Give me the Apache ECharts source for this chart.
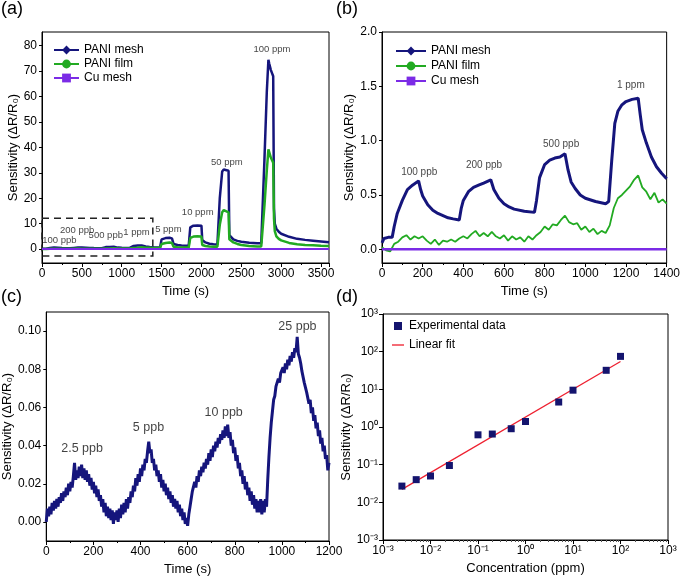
<!DOCTYPE html>
<html><head><meta charset="utf-8">
<script src="https://cdn.jsdelivr.net/npm/echarts@6/dist/echarts.min.js"></script>
<style>html,body{margin:0;padding:0;background:#fff}#c{width:683px;height:580px}</style>
</head><body><div id="c"></div>
<script>
// ---------- Panel (a) ----------
const aTime = [0,50,100,150,200,250,300,350,400,450,500,550,600,650,700,750,800,850,900,950,1000,1050,1100,1150,1200,1250,1300,1350,1400,1450,
  1480,1500,1550,1600,1630,1650,1700,1750,1800,1840,
  1860,1900,1950,2000,2010,2050,2100,2150,2200,
  2230,2260,2280,2300,2340,2350,
  2400,2450,2500,2550,2600,2650,2700,2750,
  2760,2790,2820,2840,2850,2870,2900,2910,
  2920,2940,2970,3000,
  3100,3200,3300,3400,3500,3600];
const aMesh = [0.06,0.11,0.45,0.59,0.49,0.36,0.31,0.28,0.45,0.57,0.61,0.55,0.42,0.37,0.35,0.34,0.75,0.84,0.88,0.56,0.47,0.44,0.42,1.22,1.36,1.39,0.98,0.76,0.65,0.60,
  0.6,3.8,4.3,4.4,4.2,2.0,1.6,1.4,1.3,1.3,
  8.5,9.2,9.3,9.2,3.5,2.6,2.1,1.9,1.8,
  20,30.5,31.3,31.2,30.8,5.5,
  3.8,3.2,2.9,2.7,2.5,2.4,2.3,2.3,
  2.5,35,62,74.5,73,70.5,68,16,
  10,8,6.8,6.0,
  4.8,4.0,3.6,3.3,3.0,2.7];
const aFilm = [0.02,0.0,0.10,0.12,0.10,0.09,0.07,0.07,0.11,0.16,0.15,0.15,0.11,0.11,0.09,0.10,0.21,0.23,0.33,0.22,0.21,0.18,0.18,0.45,0.55,0.70,0.55,0.49,0.42,0.40,
  0.4,2.0,2.4,2.6,2.4,0.9,0.7,0.6,0.6,0.6,
  4.4,4.9,5.0,4.9,1.6,1.2,1.0,0.9,0.9,
  9.5,14.5,15.3,15.2,14.4,3.8,
  2.6,2.0,1.6,1.4,1.2,1.1,1.0,1.0,
  1.1,17,31,39.2,38.5,36,34,12,
  7,5,4,3.4,
  2.4,1.9,1.6,1.5,1.3,1.2];
const aCuTime = [0, 3600];
const aCu = [0, 0];
const aYTicks = [0,10,20,30,40,50,60,70,80];
const aNoteText = ['100 ppb','200 ppb','500 ppb','1 ppm','5 ppm','10 ppm','50 ppm','100 ppm'];
const aNoteT = [218,440,800,1186,1585,1953,2318,2884];
const aNoteV = [3.4,7.5,5.2,6.7,7.9,14.6,34.2,78.7];
const aBox = [[0,12.1],[1390,-2.75]];

// ---------- Panel (b) ----------
const bMeshTime = [0,10,30,50,60,75,100,125,150,180,190,200,225,250,275,300,325,350,380,390,400,425,450,475,500,535,550,575,600,625,650,700,750,760,775,800,825,850,875,900,915,930,950,975,1000,1050,1100,1115,1130,1145,1160,1180,1200,1230,1260,1270,1280,1300,1325,1350,1375,1400];
const bMesh = [0.06,0.10,0.11,0.11,0.21,0.33,0.45,0.55,0.59,0.63,0.55,0.49,0.41,0.36,0.33,0.31,0.29,0.28,0.27,0.38,0.45,0.53,0.57,0.59,0.61,0.64,0.55,0.47,0.42,0.39,0.37,0.35,0.34,0.45,0.66,0.78,0.82,0.84,0.85,0.88,0.73,0.62,0.56,0.50,0.47,0.44,0.42,0.44,0.82,1.16,1.27,1.33,1.36,1.38,1.39,1.24,1.10,0.98,0.85,0.76,0.70,0.65];
const bFilmTime = [0,20,40,60,80,100,120,140,160,180,200,220,240,260,280,300,320,340,360,380,400,420,440,460,480,500,520,540,560,580,600,620,640,660,680,700,720,740,760,780,800,820,840,860,880,900,920,940,960,980,1000,1020,1040,1060,1080,1100,1120,1140,1160,1180,1200,1220,1240,1260,1280,1300,1320,1340,1360,1380,1400];
const bFilm = [0.02,-0.01,-0.02,0.05,0.07,0.11,0.13,0.09,0.12,0.10,0.12,0.08,0.05,0.09,0.04,0.08,0.07,0.09,0.07,0.10,0.12,0.10,0.14,0.17,0.12,0.15,0.12,0.16,0.12,0.10,0.13,0.08,0.12,0.09,0.11,0.07,0.12,0.09,0.13,0.16,0.21,0.18,0.23,0.22,0.27,0.31,0.25,0.23,0.24,0.18,0.21,0.16,0.19,0.14,0.17,0.15,0.22,0.38,0.47,0.50,0.54,0.58,0.64,0.68,0.57,0.53,0.46,0.52,0.43,0.46,0.42];
const bCuTime = [0, 1400];
const bCu = [0, 0];
const bYTicks = [0,0.5,1.0,1.5,2.0];
const bNoteText = ['100 ppb','200 ppb','500 ppb','1 ppm'];
const bNoteT = [183,502,881,1224];
const bNoteV = [0.712,0.777,0.970,1.508];

// ---------- Panel (c) ----------
const cTime = [
  0,5,10,15,20,25,30,35,40,45,50,55,60,65,70,75,80,85,90,95,
  100,105,110,115,120,125,130,135,140,145,150,155,160,165,170,175,180,185,190,195,
  200,205,210,215,220,225,230,235,240,245,250,255,260,265,270,275,280,285,290,295,
  300,305,310,315,320,325,330,335,340,345,350,355,360,365,370,375,380,385,390,395,
  400,405,410,415,420,425,430,435,440,445,450,455,460,465,470,475,480,485,490,495,
  500,505,510,515,520,525,530,535,540,545,550,555,560,565,570,575,580,585,590,595,
  600,605,610,615,620,625,630,635,640,645,650,655,660,665,670,675,680,685,690,695,
  700,705,710,715,720,725,730,735,740,745,750,755,760,765,770,775,780,785,790,795,
  800,805,810,815,820,825,830,835,840,845,850,855,860,865,870,875,880,885,890,895,
  900,905,910,915,920,925,930,935,940,945,950,955,960,965,970,975,980,985,990,995,
  1000,1005,1010,1015,1020,1025,1030,1035,1040,1045,1050,1055,1060,1065,1070,1075,1080,1085,1090,1095,
  1100,1105,1110,1115,1120,1125,1130,1135,1140,1145,1150,1155,1160,1165,1170,1175,1180,1185,1190,1195,1200];
const cVal = [
  0.000,0.007,0.003,0.008,0.004,0.010,0.006,0.011,0.007,0.012,0.008,0.013,0.010,0.015,0.011,0.016,0.013,0.018,0.014,0.020,
  0.016,0.021,0.018,0.024,0.031,0.022,0.027,0.023,0.029,0.024,0.030,0.023,0.028,0.022,0.027,0.021,0.025,0.019,0.023,0.017,
  0.021,0.015,0.019,0.013,0.017,0.011,0.014,0.008,0.012,0.005,0.010,0.003,0.008,0.002,0.007,0.001,0.006,-0.001,0.005,0.001,
  0.006,0.000,0.007,0.002,0.009,0.004,0.010,0.005,0.012,0.007,0.013,0.010,0.016,0.013,0.019,0.016,0.023,0.019,0.025,0.021,
  0.028,0.024,0.030,0.027,0.033,0.031,0.037,0.042,0.036,0.038,0.031,0.033,0.027,0.030,0.024,0.027,0.021,0.025,0.018,0.022,
  0.016,0.020,0.014,0.018,0.012,0.016,0.010,0.014,0.008,0.012,0.007,0.011,0.005,0.009,0.003,0.007,0.001,0.005,-0.001,0.002,
  -0.002,0.004,0.008,0.012,0.016,0.015,0.021,0.018,0.024,0.021,0.027,0.024,0.029,0.026,0.031,0.028,0.033,0.030,0.036,0.032,
  0.038,0.034,0.040,0.037,0.042,0.039,0.044,0.041,0.046,0.043,0.048,0.044,0.050,0.045,0.051,0.044,0.047,0.040,0.043,0.036,
  0.039,0.032,0.035,0.028,0.031,0.024,0.027,0.020,0.024,0.017,0.021,0.014,0.018,0.011,0.016,0.009,0.014,0.007,0.012,0.005,
  0.011,0.005,0.012,0.004,0.011,0.005,0.012,0.008,0.022,0.034,0.044,0.052,0.058,0.064,0.066,0.071,0.070,0.075,0.073,0.078,
  0.077,0.081,0.078,0.083,0.080,0.085,0.082,0.087,0.084,0.089,0.086,0.091,0.089,0.097,0.088,0.086,0.083,0.079,0.078,0.073,
  0.074,0.068,0.069,0.062,0.064,0.057,0.060,0.053,0.056,0.049,0.052,0.045,0.048,0.041,0.044,0.037,0.040,0.033,0.035,0.027,0.031];
const cYTicks = [0,0.02,0.04,0.06,0.08,0.10];
const cNoteText = ['2.5 ppb','5 ppb','10 ppb','25 ppb'];
const cNoteT = [152,434,753,1066];
const cNoteV = [0.0383,0.0496,0.0575,0.1026];

// ---------- Panel (d) ----------
const dConc = [0.0025,0.005,0.01,0.025,0.1,0.2,0.5,1,5,10,50,100];
const dSens = [0.027,0.04,0.05,0.095,0.62,0.65,0.9,1.4,4.6,9.5,32,75];
const dFitConc = [0.0025,100];
const dFitSens = [0.022,55];
const dMinorTicks = [0.002,0.003,0.004,0.005,0.006,0.007,0.008,0.009,
  0.02,0.03,0.04,0.05,0.06,0.07,0.08,0.09,
  0.2,0.3,0.4,0.5,0.6,0.7,0.8,0.9,
  2,3,4,5,6,7,8,9,
  20,30,40,50,60,70,80,90,
  200,300,400,500,600,700,800,900];

// ---------- build ----------
const NAVY = '#15157c', GREEN = '#22aa22', PURPLE = '#7b2be6', RED = '#ee2030';
const FONT = 'Liberation Sans, Arial, sans-serif';
const zip = (xs, ys) => xs.map((x, i) => [x, ys[i]]);
const notes = (txt, ts, vs) => txt.map((t, i) => [ts[i], vs[i], t]);
const NAME_Y = 'Sensitivity (\u0394R/R\u2080)';

function xAxis(grid, min, max, interval, name, showMax) {
  return {
    type: 'value', gridIndex: grid, min: min, max: max, interval: interval,
    name: name, nameLocation: 'middle', nameGap: 22,
    nameTextStyle: {fontSize: 13, color: '#000', fontFamily: FONT},
    axisLine: {onZero: false, lineStyle: {color: '#000', width: 1}},
    axisTick: {show: true, length: 4, lineStyle: {color: '#000'}},
    minorTick: {show: true, splitNumber: 2, length: 2, lineStyle: {color: '#000'}},
    axisLabel: {fontSize: 12, color: '#000', margin: 5, fontFamily: FONT, showMaxLabel: showMax,
      formatter: v => String(v)},
    splitLine: {show: false}
  };
}
function yAxis(grid, min, max, ticks, digits) {
  return {
    type: 'value', gridIndex: grid, min: min, max: max,
    name: NAME_Y, nameLocation: 'middle', nameGap: 22,
    nameTextStyle: {fontSize: 13, color: '#000', fontFamily: FONT},
    axisLine: {onZero: false, lineStyle: {color: '#000', width: 1}},
    axisTick: {show: true, length: 3, customValues: ticks, lineStyle: {color: '#000'}},
    axisLabel: {fontSize: 12, color: '#000', margin: 5, fontFamily: FONT, customValues: ticks,
      formatter: v => digits === null ? String(v) : Number(v).toFixed(digits)},
    splitLine: {show: false}
  };
}
const supMap = {'-': '\u207B', '0': '\u2070', '1': '\u00B9', '2': '\u00B2', '3': '\u00B3'};
const logFmt = v => '10' + String(Math.round(Math.log10(v))).split('').map(c => supMap[c]).join('');
function logAxis(grid, name, isX) {
  return {
    type: 'log', logBase: 10, gridIndex: grid, min: 0.001, max: 1000,
    name: name, nameLocation: 'middle', nameGap: isX ? 22 : 26,
    nameTextStyle: {fontSize: 13, color: '#000', fontFamily: FONT},
    axisLine: {onZero: false, lineStyle: {color: '#000', width: 1}},
    axisTick: {show: true, length: 4, lineStyle: {color: '#000'}},
    axisLabel: {fontSize: 12, color: '#000', margin: 5, fontFamily: FONT, formatter: logFmt},
    splitLine: {show: false}
  };
}
function lineSeries(name, xi, data, color, symbol, width) {
  return {
    name: name, type: 'line', xAxisIndex: xi, yAxisIndex: xi, data: data,
    symbol: symbol, symbolSize: 7, showSymbol: false, animation: false,
    lineStyle: {color: color, width: width}, itemStyle: {color: color}
  };
}
function noteSeries(xi, data, size) {
  return {
    type: 'scatter', xAxisIndex: xi, yAxisIndex: xi, data: data, symbolSize: 0, silent: true,
    animation: false,
    label: {show: true, position: 'inside', formatter: p => p.data[2], color: '#111',
      fontSize: size, fontFamily: FONT}
  };
}
const legendBase = {
  orient: 'vertical', itemWidth: 25, itemHeight: 11,
  textStyle: {fontSize: 12, color: '#000', fontFamily: FONT}, padding: 0, selectedMode: false
};

const option = {
  backgroundColor: '#fff',
  textStyle: {fontFamily: FONT},
  title: [
    {text: '(a)', left: 1, top: 0},
    {text: '(b)', left: 336, top: 0},
    {text: '(c)', left: 1, top: 288},
    {text: '(d)', left: 336, top: 288}
  ].map(t => Object.assign(t, {padding: 0, textStyle: {fontSize: 18, fontWeight: 'normal', color: '#000', fontFamily: FONT}})),
  grid: [
    {left: 42, top: 32, width: 287, height: 231},
    {left: 382, top: 32, width: 286, height: 231},
    {left: 41, top: 312, width: 288, height: 229},
    {left: 383, top: 314, width: 285, height: 226}
  ].map(g => Object.assign(g, {show: true, borderColor: '#000', borderWidth: 1, containLabel: false})),
  xAxis: [
    xAxis(0, 0, 3600, 500, 'Time (s)', false),
    xAxis(1, 0, 1400, 200, 'Time (s)', true),
    xAxis(2, 0, 1200, 200, 'Time (s)', true),
    logAxis(3, 'Concentration (ppm)', true),
    {type: 'log', logBase: 10, gridIndex: 3, min: 0.001, max: 1000, position: 'bottom',
      axisLine: {show: false}, axisLabel: {show: false}, splitLine: {show: false},
      axisTick: {show: true, length: 2, customValues: dMinorTicks, lineStyle: {color: '#555'}}}
  ],
  yAxis: [
    yAxis(0, -5.5, 85.4, aYTicks, null),
    yAxis(1, -0.126, 2.0, bYTicks, 1),
    yAxis(2, -0.01, 0.11, cYTicks, 2),
    logAxis(3, NAME_Y, false)
  ],
  legend: [
    Object.assign({}, legendBase, {left: 53, top: 44, itemGap: 2, data: ['PANI mesh', 'PANI film', 'Cu mesh']}),
    Object.assign({}, legendBase, {left: 395, top: 45, itemGap: 3, itemWidth: 30, data: ['PANI mesh', 'PANI film', 'Cu mesh']}),
    Object.assign({}, legendBase, {left: 392, top: 320, itemGap: 7, itemWidth: 12, itemHeight: 8, data: [
      {name: 'Experimental data', icon: 'path://M0,0 L10,0 L10,10 L0,10 Z'},
      {name: 'Linear fit', icon: 'path://M0,0 L20,0 L20,2.2 L0,2.2 Z'}
    ]})
  ],
  series: [
    lineSeries('PANI mesh', 0, zip(aTime, aMesh), NAVY, 'diamond', 2.5),
    lineSeries('PANI film', 0, zip(aTime, aFilm), GREEN, 'circle', 2.5),
    Object.assign(lineSeries('Cu mesh', 0, zip(aCuTime, aCu), PURPLE, 'rect', 2), {
      markArea: {silent: true, itemStyle: {color: 'rgba(0,0,0,0)', borderColor: '#222', borderWidth: 1.5, borderType: [7, 5]},
        data: [[{coord: aBox[0]}, {coord: aBox[1]}]]}
    }),
    noteSeries(0, notes(aNoteText, aNoteT, aNoteV), 9.5),

    lineSeries('PANI mesh', 1, zip(bMeshTime, bMesh), NAVY, 'diamond', 3),
    lineSeries('PANI film', 1, zip(bFilmTime, bFilm), GREEN, 'circle', 1.8),
    lineSeries('Cu mesh', 1, zip(bCuTime, bCu), PURPLE, 'rect', 2.5),
    noteSeries(1, notes(bNoteText, bNoteT, bNoteV), 10),

    lineSeries('c', 2, zip(cTime, cVal), NAVY, 'none', 3),
    noteSeries(2, notes(cNoteText, cNoteT, cNoteV), 12.5),

    {name: 'Experimental data', type: 'scatter', xAxisIndex: 3, yAxisIndex: 3, data: zip(dConc, dSens),
      symbol: 'rect', symbolSize: 7, itemStyle: {color: '#14146e', opacity: 1}, animation: false, z: 3},
    {name: 'Linear fit', type: 'line', xAxisIndex: 3, yAxisIndex: 3, data: zip(dFitConc, dFitSens),
      symbol: 'none', lineStyle: {color: RED, width: 1.3}, itemStyle: {color: RED}, animation: false, z: 2}
  ]
};
const chart = echarts.init(document.getElementById('c'));
chart.setOption(option);
</script></body></html>
